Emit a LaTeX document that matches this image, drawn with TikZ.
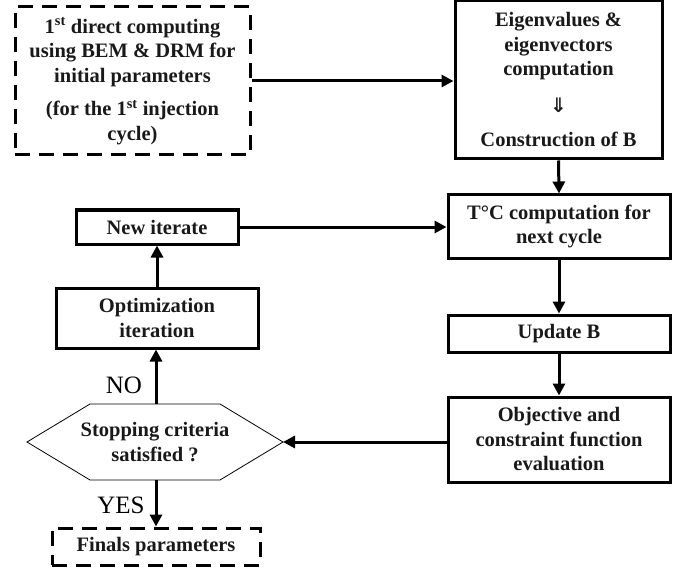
\documentclass[tikz,border=0pt]{standalone}
\usepackage{fontspec}
\setmainfont{Liberation Serif}
\newfontfamily\djv{DejaVu Sans}
\usetikzlibrary{arrows.meta}
\begin{document}
\begin{tikzpicture}[x=1pt,y=-1pt,
  box/.style={draw=black,line width=3pt,align=center,inner sep=0pt,
    font=\bfseries\fontsize{20.5}{24.5}\selectfont,text=black!90},
  dbox/.style={box,dashed,dash pattern=on 15pt off 9pt},
  arr/.style={line width=3pt,-{Triangle[length=12pt,width=12pt]}},
  lbl/.style={font=\fontsize{25}{25}\selectfont,inner sep=0pt}]
\useasboundingbox (0,0) rectangle (693,572);
\fill[white] (0,0) rectangle (693,572);
\node[dbox,minimum width=235pt,minimum height=148pt] (b1) at (132.5,81)
  {1\textsuperscript{st} direct computing\\ using BEM \& DRM for\\ initial parameters\\[9pt]
   (for the 1\textsuperscript{st} injection\\ cycle)};
\node[box,minimum width=207pt,minimum height=158pt] (b2) at (558.5,80)
  {Eigenvalues \&\\ eigenvectors\\ computation\\[12pt] {\djv\bfseries\fontsize{20}{20}\selectfont ⇓}\\[10pt] Construction of B};
\node[box,minimum width=222pt,minimum height=63pt] (tc) at (559,226.5)
  {T°C computation for\\ next cycle};
\node[box,minimum width=222pt,minimum height=37pt] (ub) at (559,333.5) {Update B};
\node[box,minimum width=222pt,minimum height=85pt] (ob) at (559,439.5)
  {Objective and\\ constraint function\\ evaluation};
\node[box,minimum width=162pt,minimum height=34pt] (ni) at (157,227) {New iterate};
\node[box,minimum width=202pt,minimum height=60pt] (op) at (157,318)
  {Optimization\\ iteration};
\draw[line width=0.8pt] (27,442) coordinate (hl) -- (90,404) -- (156,404) coordinate (ht)
  -- (220,404) -- (283,442) coordinate (hr) -- (220,480) -- (156,480) coordinate (hb)
  -- (90,480) -- cycle;
\node[align=center,inner sep=0pt,font=\bfseries\fontsize{20.5}{24.5}\selectfont,text=black!90] (hx) at (155,442)
  {Stopping criteria\\ satisfied ?};
\node[dbox,minimum width=208pt,minimum height=37pt] (fp) at (156,546.5) {Finals parameters};
\draw[arr] (b1.east) -- (b1.east -| b2.west);
\draw[arr] (b2.south) -- (tc.north);
\draw[arr] (tc.south) -- (ub.north);
\draw[arr] (ub.south) -- (ob.north);
\draw[arr] (ob.west |- hr) -- (hr);
\draw[arr] (ht) -- (ht |- op.south);
\draw[arr] (op.north) -- (ni.south);
\draw[arr] (ni.east) -- (ni.east -| tc.west);
\draw[arr] (hb) -- (hb |- fp.north);
\node[lbl] (no) at (124,385) {NO};
\node[lbl] (yes) at (121,505) {YES};
\end{tikzpicture}
\end{document}
